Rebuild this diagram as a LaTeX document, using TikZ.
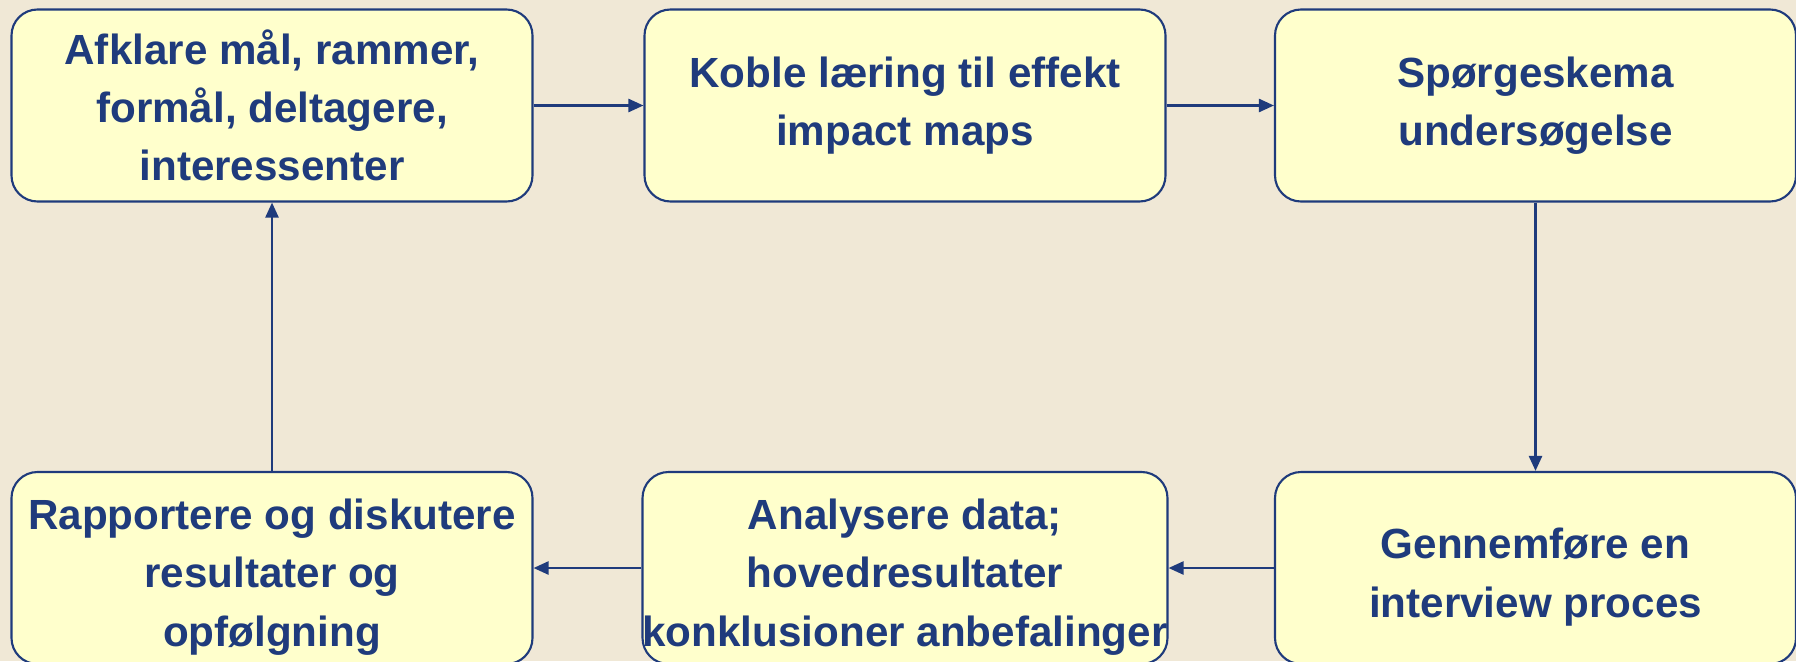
\documentclass[tikz,border=0pt]{standalone}
\usepackage{fontspec}
\setmainfont{Liberation Sans}
\usepackage{tikz}
\usetikzlibrary{arrows.meta}

\definecolor{bgbeige}{RGB}{240,232,214}
\definecolor{boxyellow}{RGB}{255,255,204}
\definecolor{darkblue}{RGB}{31,59,124}

\begin{document}
\begin{tikzpicture}[
    stepbox/.style={draw=darkblue, line width=0.6pt, fill=boxyellow, rounded corners=0.26cm,
        minimum width=5.21cm, minimum height=1.92cm, inner sep=0pt, align=center,
        text=darkblue, font=\fontsize{12}{16.6}\selectfont\bfseries},
    flow/.style={darkblue, line width=0.7pt, -{Triangle[length=0.15cm,width=0.13cm]}}
]
    \newcommand{\topy}{-1.055}
    \newcommand{\boty}{-5.68}
    \newcommand{\dropline}{\rule{0pt}{13.8pt}}

    \useasboundingbox (0,0) rectangle (17.96,-6.61);
    \fill [bgbeige] (0,0) rectangle (17.96,-6.61);
    \clip (0,0) rectangle (17.96,-6.61);

    % top row
    \node [stepbox] (maal) at (2.72,\topy) {Afklare mål, rammer,\\formål, deltagere,\\interessenter};
    \node [stepbox] (koble) at (9.05,\topy) {Koble læring til effekt\\impact maps};
    \node [stepbox] (survey) at (15.355,\topy) {Spørgeskema\\undersøgelse};

    % bottom row, text sits a bit low in its box
    \node [stepbox] (interview) at (15.355,\boty) {\dropline Gennemføre en\\interview proces};
    \node [stepbox] (analyse) at (9.05,\boty) {\dropline Analysere data;\\hovedresultater\\konklusioner anbefalinger};
    \node [stepbox] (rapport) at (2.72,\boty) {\dropline Rapportere og diskutere\\resultater og\\opfølgning};

    \draw [flow] (maal) -- (koble);
    \draw [flow] (koble) -- (survey);
    \draw [flow] (survey) -- (interview);
    \draw [flow] (interview) -- (analyse);
    \draw [flow] (analyse) -- (rapport);
    \draw [flow] (rapport) -- (maal);

\end{tikzpicture}
\end{document}
